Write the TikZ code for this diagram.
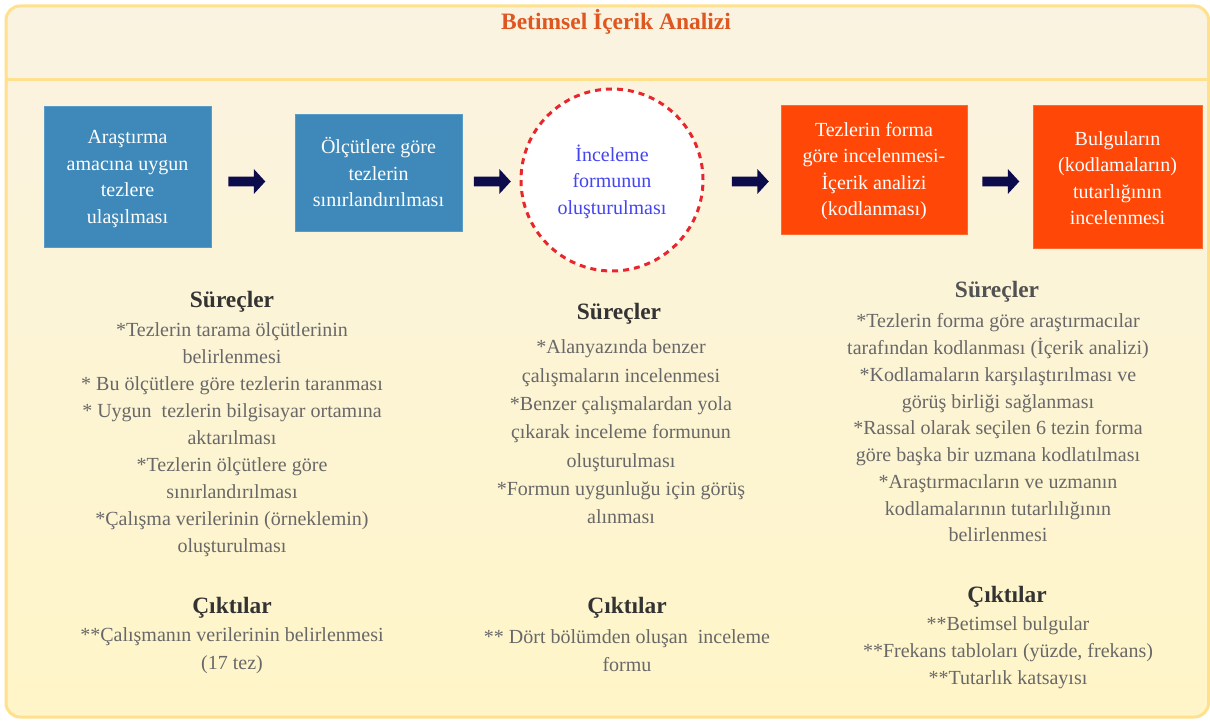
\documentclass[tikz,border=0pt]{standalone}
\usepackage{fontspec}
\setmainfont{Liberation Serif}
\usetikzlibrary{shapes.arrows}
\definecolor{frametop}{HTML}{FAF3E1}
\definecolor{framebot}{HTML}{FFF5C8}
\definecolor{frameline}{HTML}{FFE08C}
\definecolor{titlecol}{HTML}{DE5620}
\definecolor{boxblue}{HTML}{3E89B9}
\definecolor{boxblueline}{HTML}{5A9CC8}
\definecolor{boxorange}{HTML}{FF4808}
\definecolor{boxorangeline}{HTML}{FF6A30}
\definecolor{arrowcol}{HTML}{0C0C4C}
\definecolor{dashred}{HTML}{E8262E}
\definecolor{circtext}{HTML}{4444F0}
\definecolor{headcol}{HTML}{333333}
\definecolor{bodycol}{HTML}{686868}
\begin{document}
\begin{tikzpicture}[x=1pt,y=-1pt,
  titletext/.style={text=titlecol,font=\fontsize{23.5}{27}\selectfont\bfseries,inner sep=0pt},
  boxtext/.style={align=center,text=white,font=\fontsize{20}{26.5}\selectfont,inner sep=0pt},
  bluebox/.style={fill=boxblue,draw=boxblueline,line width=0.8pt},
  orangebox/.style={fill=boxorange,draw=boxorangeline,line width=0.8pt},
  formcircle/.style={circle,fill=white,draw=dashred,line width=3pt,dash pattern=on 6pt off 5pt,minimum size=182pt,inner sep=0pt},
  blockarrow/.style={single arrow,fill=arrowcol,draw=none,text height=9.5pt,text depth=0pt,inner sep=0pt,minimum height=37pt,single arrow head extend=7.5pt,single arrow tip angle=95},
  heading/.style={text=headcol,font=\fontsize{23.4}{27}\selectfont\bfseries,inner sep=0pt},
  bodytext/.style={align=center,text=bodycol,font=\fontsize{20}{27}\selectfont,inner sep=0pt}
]
\useasboundingbox (0,0) rectangle (1210,722);
% frame
\path[top color=frametop,bottom color=framebot,draw=frameline,line width=3pt,rounded corners=14pt]
  (6,6) rectangle (1208.5,717);
\draw[frameline,line width=3pt] (6,80) -- (1208.5,80);
\node[titletext] (title) at (616,22) {Betimsel İçerik Analizi};
% top row
\path[bluebox] (44,106) rectangle (211,247);
\node[boxtext] (b1) at (127.5,179) {Araştırma\\amacına uygun\\tezlere\\ulaşılması};
\path[bluebox] (295,114) rectangle (462,231);
\node[boxtext] (b2) at (378.5,172) {Ölçütlere göre\\tezlerin\\sınırlandırılması};
\node[formcircle] (c3) at (612,180) {};
\node[boxtext,text=circtext] (t3) at (612,181.5) {İnceleme\\formunun\\oluşturulması};
\path[orangebox] (781,105) rectangle (967,234);
\node[boxtext] (b4) at (874,171) {Tezlerin forma\\göre incelenmesi-\\İçerik analizi\\(kodlanması)};
\path[orangebox] (1033,105) rectangle (1202,248);
\node[boxtext] (b5) at (1117.5,178) {Bulguların\\(kodlamaların)\\tutarlığının\\incelenmesi};
% arrows
\node[blockarrow] (a1) at (244.5,181.5) {};
\node[blockarrow] (a2) at (490,181.5) {};
\node[blockarrow] (a3) at (748,181.5) {};
\node[blockarrow] (a4) at (998.5,181.5) {};
% Süreçler
\node[heading] (s1) at (232,302) {Süreçler};
\node[bodytext] (s1b) at (232,439.5) {*Tezlerin tarama ölçütlerinin\\belirlenmesi\\* Bu ölçütlere göre tezlerin taranması\\* Uygun\ \ tezlerin bilgisayar ortamına\\aktarılması\\*Tezlerin ölçütlere göre\\sınırlandırılması\\*Çalışma verilerinin (örneklemin)\\oluşturulması};
\node[heading] (s2) at (619,314) {Süreçler};
\node[bodytext,font=\fontsize{20}{28.3}\selectfont] (s2b) at (621,432) {*Alanyazında benzer\\çalışmaların incelenmesi\\*Benzer çalışmalardan yola\\çıkarak inceleme formunun\\oluşturulması\\*Formun uygunluğu için görüş\\alınması};
\node[heading,text=headcol!85] (s3) at (997,292) {Süreçler};
\node[bodytext,font=\fontsize{20}{26.75}\selectfont] (s3b) at (998,428) {*Tezlerin forma göre araştırmacılar\\tarafından kodlanması (İçerik analizi)\\*Kodlamaların karşılaştırılması ve\\görüş birliği sağlanması\\*Rassal olarak seçilen 6 tezin forma\\göre başka bir uzmana kodlatılması\\*Araştırmacıların ve uzmanın\\kodlamalarının tutarlılığının\\belirlenmesi};
% Çıktılar
\node[heading] (o1) at (232,608) {Çıktılar};
\node[bodytext,font=\fontsize{20}{28}\selectfont] (o1b) at (232,651) {**Çalışmanın verilerinin belirlenmesi\\(17 tez)};
\node[heading] (o2) at (627,608) {Çıktılar};
\node[bodytext,font=\fontsize{20}{28}\selectfont] (o2b) at (627,651) {** Dört bölümden oluşan\ \ inceleme\\formu};
\node[heading] (o3) at (1007,597) {Çıktılar};
\node[bodytext] (o3b) at (1008,653) {**Betimsel bulgular\\**Frekans tabloları (yüzde, frekans)\\**Tutarlık katsayısı};
\end{tikzpicture}
\end{document}
